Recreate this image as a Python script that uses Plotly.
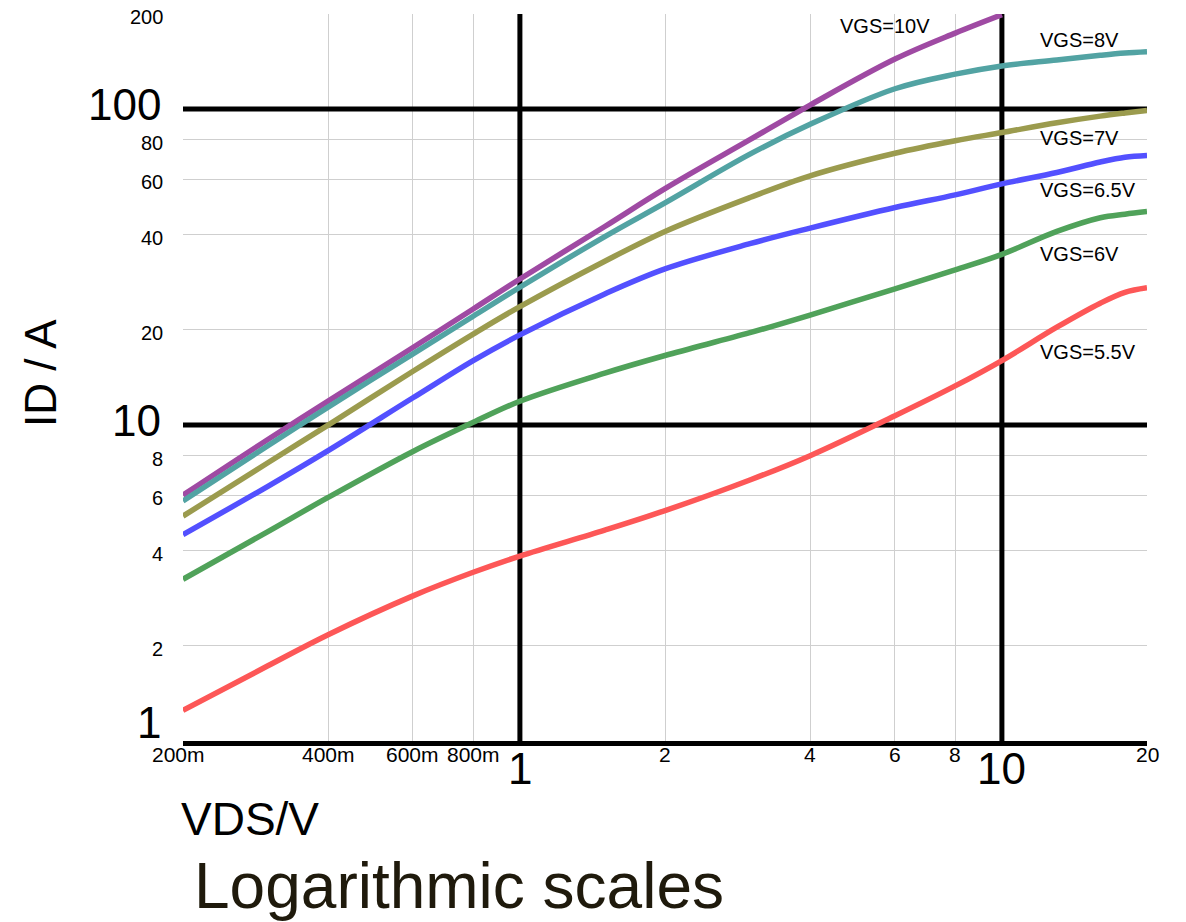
import numpy as np
import plotly.graph_objects as go

# ---------------- data ----------------
vds = [0.2, 0.3, 0.4, 0.6, 0.8, 1, 1.5, 2, 3, 4, 6, 8, 10, 13, 16, 18, 20]

id_vgs10 = [6.0, 9.0, 11.9, 17.6, 23.3, 29.0, 42.5, 56, 80, 103, 144, 174, 199]
id_vgs8 = [5.75, 8.6, 11.4, 16.8, 22.1, 27.3, 39.5, 50.5, 72, 89.5, 116, 129, 137, 143, 148, 150.5, 152]
id_vgs7 = [5.15, 7.6, 10.0, 14.8, 19.4, 23.7, 33.0, 41, 52.5, 61.5, 72.5, 79.4, 84.3, 90.5, 95, 97.2, 99]
id_vgs65 = [4.5, 6.4, 8.3, 12.2, 16.0, 19.3, 26.0, 31.2, 37.5, 42, 48.8, 53.5, 58, 63, 68, 70.4, 71.3]
id_vgs6 = [3.25, 4.6, 5.9, 8.25, 10.2, 11.9, 14.6, 16.6, 19.6, 22.3, 27, 31, 34.7, 41, 45.3, 46.5, 47.4]
id_vgs55 = [1.25, 1.73, 2.17, 2.88, 3.42, 3.85, 4.65, 5.36, 6.7, 8.0, 10.7, 13.3, 16.0, 20.4, 24.3, 26.3, 27.2]

series_names = ["VGS=10V", "VGS=8V", "VGS=7V", "VGS=6.5V", "VGS=6V", "VGS=5.5V"]
series_values = [id_vgs10, id_vgs8, id_vgs7, id_vgs65, id_vgs6, id_vgs55]

x_tick_vals = [0.2, 0.4, 0.6, 0.8, 1, 2, 4, 6, 8, 10, 20]
x_tick_text = ["200m", "400m", "600m", "800m", "1", "2", "4", "6", "8", "10", "20"]
y_tick_vals = [1, 2, 4, 6, 8, 10, 20, 40, 60, 80, 100, 200]
y_tick_text = ["1", "2", "4", "6", "8", "10", "20", "40", "60", "80", "100", "200"]
major_x = [1, 10]
major_y = [10, 100]

# ---------------- styles ----------------
colors = ["#9f4aa3", "#52a3a3", "#9b9b4e", "#5350ff", "#50a25a", "#fd5757"]
FONT = "Liberation Sans, Arial, Helvetica, sans-serif"
W, H = 1186, 922
L, R, T, B = 183, 1147, 14, 741  # plot area in pixels


def px(xp):
    return (xp - L) / (R - L)


def py(yp):
    return (B - yp) / (B - T)


fig = go.Figure()

# heavy decade lines (drawn first so curves sit on top)
for xv in major_x:
    fig.add_trace(go.Scatter(x=[xv, xv], y=[y_tick_vals[0], y_tick_vals[-1]], mode="lines",
                             line=dict(color="black", width=5), hoverinfo="skip", showlegend=False))
for yv in major_y:
    fig.add_trace(go.Scatter(x=[x_tick_vals[0], x_tick_vals[-1]], y=[yv, yv], mode="lines",
                             line=dict(color="black", width=5), hoverinfo="skip", showlegend=False))

for name, vals, col in zip(series_names, series_values, colors):
    fig.add_trace(go.Scatter(x=vds[:len(vals)], y=vals, mode="lines", name=name,
                             line=dict(color=col, width=5.5, shape="spline", smoothing=1.0),
                             showlegend=False))

annotations = []
# x tick labels
for v, t in zip(x_tick_vals, x_tick_text):
    big = v in major_x
    xs = -5 if v == 0.2 else 0
    annotations.append(dict(x=np.log10(v), xref="x", y=0, yref="paper",
                            text=t, showarrow=False, xanchor="center", yanchor="middle",
                            xshift=xs, yshift=-27 if big else -13,
                            font=dict(family=FONT, size=44 if big else 21, color="black")))
# y tick labels
for v, t in zip(y_tick_vals, y_tick_text):
    big = v in (1, 10, 100)
    if v == 1:
        ys = 19
    elif big:
        ys = 5
    else:
        ys = -3
    annotations.append(dict(x=0, xref="paper", y=np.log10(v), yref="y",
                            text=t, showarrow=False, xanchor="right", yanchor="middle",
                            xshift=-20 if big else -18, yshift=ys,
                            font=dict(family=FONT, size=44 if big else 20, color="black")))

# series labels
label_pos = [(838, 26), (1038, 40), (1038, 138), (1038, 190), (1038, 254), (1038, 352)]
for name, (lx, ly) in zip(series_names, label_pos):
    annotations.append(dict(x=px(lx), xref="paper", y=py(ly), yref="paper", text=name,
                            showarrow=False, xanchor="left", yanchor="middle",
                            font=dict(family=FONT, size=20, color="black")))

# axis titles
annotations.append(dict(x=px(41), xref="paper", y=py(373), yref="paper", text="ID / A",
                        textangle=-90, showarrow=False, xanchor="center", yanchor="middle",
                        font=dict(family=FONT, size=44, color="black")))
annotations.append(dict(x=px(179), xref="paper", y=py(819), yref="paper", text="VDS/V",
                        showarrow=False, xanchor="left", yanchor="middle",
                        font=dict(family=FONT, size=46, color="black")))
annotations.append(dict(x=px(192), xref="paper", y=py(886), yref="paper", text="Logarithmic scales",
                        showarrow=False, xanchor="left", yanchor="middle",
                        font=dict(family=FONT, size=64, color="#1f1a0c")))

fig.update_layout(
    width=W, height=H,
    margin=dict(l=L, r=W - R, t=T, b=H - B, pad=0),
    paper_bgcolor="white", plot_bgcolor="white",
    showlegend=False, hovermode=False,
    annotations=annotations,
    xaxis=dict(type="log", range=[np.log10(x_tick_vals[0]), np.log10(x_tick_vals[-1])],
               tickvals=[v for v in x_tick_vals if v not in major_x and v != x_tick_vals[0]],
               showticklabels=False, ticks="", showgrid=True, gridcolor="#cfcfcf", gridwidth=1,
               showline=True, linecolor="black", linewidth=5, zeroline=False, fixedrange=True),
    yaxis=dict(type="log", range=[np.log10(y_tick_vals[0]), np.log10(y_tick_vals[-1])],
               tickvals=[v for v in y_tick_vals if v not in (1, 10, 100)],
               showticklabels=False, ticks="", showgrid=True, gridcolor="#cfcfcf", gridwidth=1,
               showline=False, zeroline=False, fixedrange=True),
)

fig.write_html("out.html")
